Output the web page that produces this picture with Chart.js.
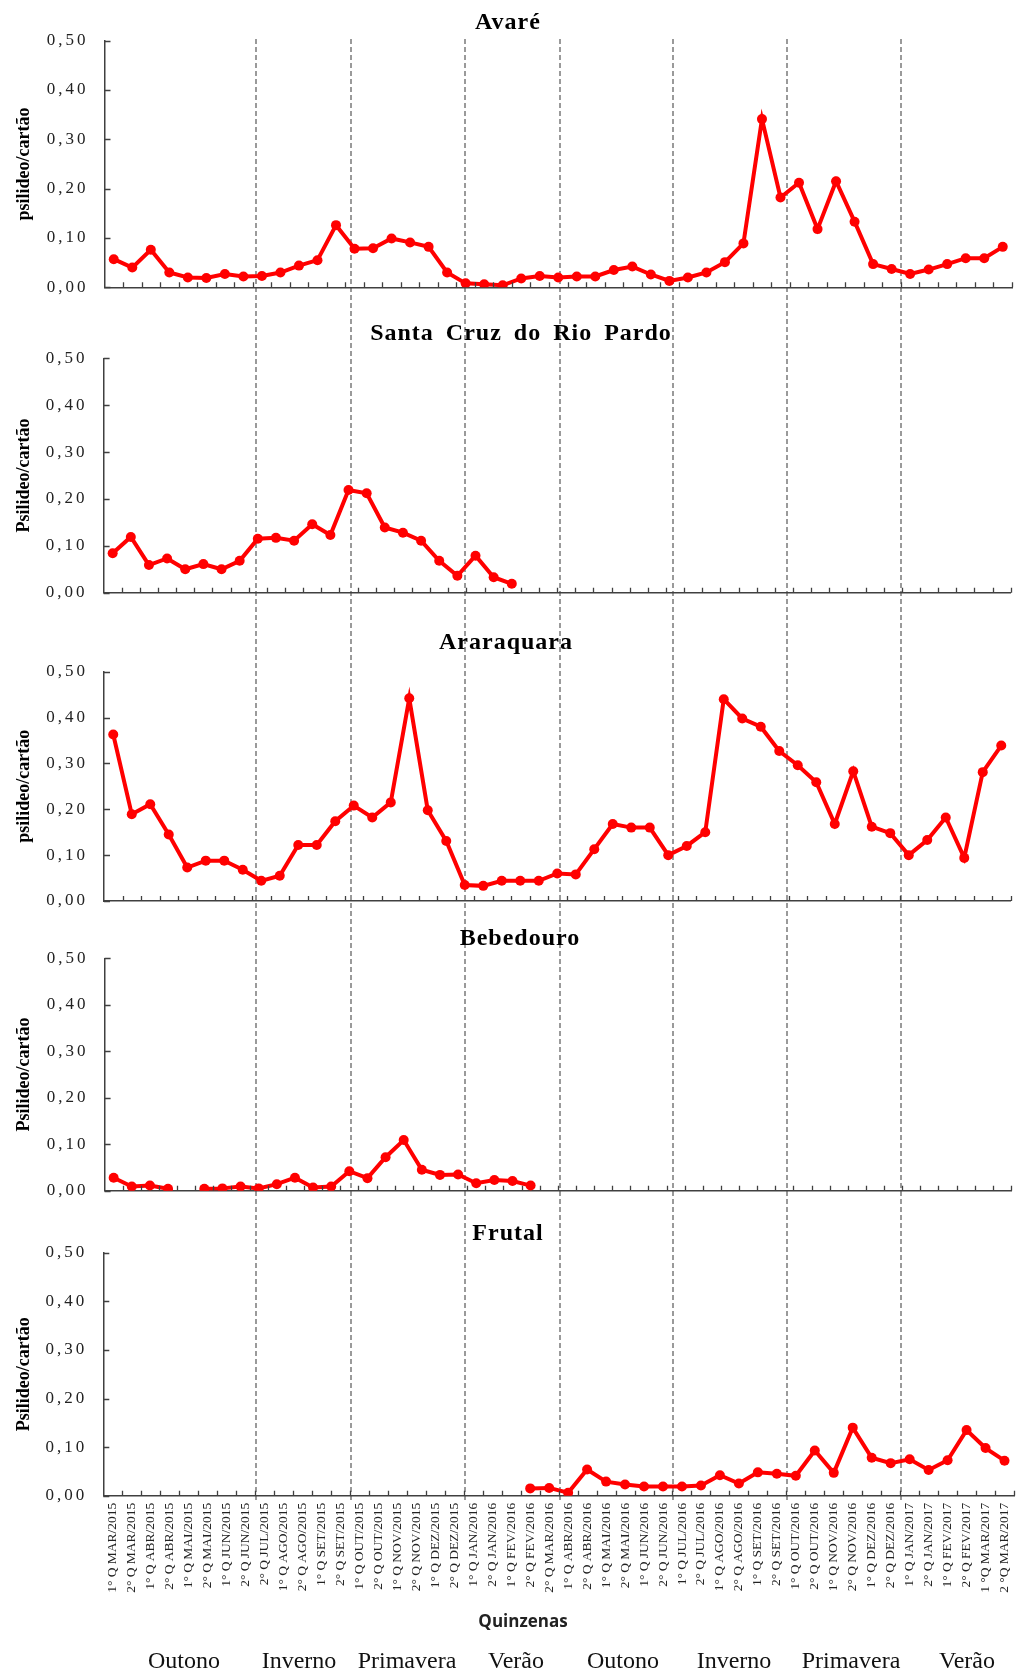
<!DOCTYPE html>
<html lang="pt-BR">
<head>
<meta charset="utf-8">
<title>Psilídeos por cartão - quinzenas</title>
<script src="https://cdn.jsdelivr.net/npm/chart.js@4.4.0/dist/chart.umd.min.js"></script>
<style>
  body { margin: 0; background: #fff; }
  #pagina { position: relative; width: 1019px; height: 1672px; overflow: hidden; }
  #tracos { position: absolute; left: 0; top: 0; }
  .painel { position: absolute; left: 0; }
  .painel canvas { display: block; }
  .titulo {
    position: absolute; transform: translate(-50%, -50%);
    font: bold 24px 'Liberation Serif', serif; letter-spacing: 1px; word-spacing: 5px;
    color: #000; white-space: nowrap;
  }
  .estacao {
    position: absolute; top: 1660px; transform: translate(-50%, -50%);
    font: 24px 'Liberation Serif', serif; color: #111; white-space: nowrap;
  }
  #quinzenas {
    position: absolute; left: 523px; top: 1620px; transform: translate(-50%, -50%);
    font: bold 17px 'Open Sans', sans-serif; color: #222;
  }
</style>
</head>
<body>
<div id="pagina">
  <canvas id="tracos" width="1019" height="1672"></canvas>
</div>
<script>
// Quinzenas mostradas no eixo do gráfico de Frutal
const quinzenas = [
  '1° Q MAR/2015', '2° Q MAR/2015', '1° Q ABR/2015', '2° Q ABR/2015', '1° Q MAI/2015', '2° Q MAI/2015',
  '1° Q JUN/2015', '2° Q JUN/2015', '2° Q JUL/2015', '1° Q AGO/2015', '2° Q AGO/2015', '1° Q SET/2015',
  '2° Q SET/2015', '1° Q OUT/2015', '2° Q OUT/2015', '1° Q NOV/2015', '2° Q NOV/2015', '1° Q DEZ/2015',
  '2° Q DEZ/2015', '1° Q JAN/2016', '2° Q JAN/2016', '1° Q FEV/2016', '2° Q FEV/2016', '2° Q MAR/2016',
  '1° Q ABR/2016', '2° Q ABR/2016', '1° Q MAI/2016', '2° Q MAI/2016', '1° Q JUN/2016', '2° Q JUN/2016',
  '1° Q JUL/2016', '2° Q JUL/2016', '1° Q AGO/2016', '2° Q AGO/2016', '1° Q SET/2016', '2° Q SET/2016',
  '1° Q OUT/2016', '2° Q OUT/2016', '1° Q NOV/2016', '2° Q NOV/2016', '1° Q DEZ/2016', '2° Q DEZ/2016',
  '1° Q JAN/2017', '2° Q JAN/2017', '1° Q FEV/2017', '2° Q FEV/2017', '1 °Q MAR/2017', '2 °Q MAR/2017'
];

// psilídeos por cartão, em ordem de quinzena
const avare = [
  0.057, 0.040, 0.076, 0.030, 0.020, 0.019, 0.027, 0.022, 0.023, 0.030,
  0.044, 0.055, 0.126, 0.078, 0.079, 0.099, 0.091, 0.082, 0.030, 0.008,
  0.006, 0.004, 0.018, 0.023, 0.020, 0.022, 0.022, 0.035, 0.042, 0.026,
  0.013, 0.020, 0.030, 0.051, 0.089, 0.341, 0.182, 0.212, 0.118, 0.215,
  0.133, 0.047, 0.037, 0.027, 0.036, 0.047, 0.059, 0.059, 0.082
];
const santaCruz = [
  0.084, 0.119, 0.059, 0.073, 0.050, 0.061, 0.050, 0.068, 0.115, 0.117,
  0.111, 0.146, 0.123, 0.219, 0.212, 0.139, 0.128, 0.111, 0.068, 0.036,
  0.079, 0.033, 0.019
];
const araraquara = [
  0.363, 0.189, 0.211, 0.145, 0.073, 0.088, 0.088, 0.068, 0.044, 0.055,
  0.122, 0.122, 0.174, 0.208, 0.182, 0.215, 0.442, 0.198, 0.131, 0.035,
  0.033, 0.044, 0.044, 0.044, 0.060, 0.058, 0.113, 0.168, 0.160, 0.160,
  0.100, 0.120, 0.150, 0.440, 0.398, 0.380, 0.327, 0.296, 0.259, 0.168,
  0.283, 0.162, 0.148, 0.100, 0.133, 0.182, 0.094, 0.281, 0.339
];
const bebedouro = [
  0.028, 0.009, 0.011, 0.004, null, 0.004, 0.005, 0.009, 0.005, 0.014,
  0.028, 0.007, 0.009, 0.042, 0.027, 0.072, 0.109, 0.045, 0.034, 0.035,
  0.016, 0.023, 0.021, 0.011
];
// Frutal começa na 2ª quinzena de fevereiro/2016
const inicioFrutal = 22;
const frutal = [
  0.015, 0.016, 0.006, 0.054, 0.029, 0.023, 0.019, 0.019, 0.019, 0.021,
  0.042, 0.025, 0.048, 0.045, 0.041, 0.093, 0.047, 0.140, 0.078, 0.067,
  0.075, 0.053, 0.073, 0.135, 0.098, 0.072
];

const yTicks = [0, 0.1, 0.2, 0.3, 0.4, 0.5];
const estacoes = ['Outono', 'Inverno', 'Primavera', 'Verão', 'Outono', 'Inverno', 'Primavera', 'Verão'];
// índice (em quinzenas) da primeira quinzena de cada nova estação
const trocaEstacao = [8, 13, 19, 24, 30, 36, 42];

const vagas = n => Array.from({ length: n }, (_, i) => quinzenas[i] || '');
const virgula = v => v.toFixed(2).replace('.', ',');

const paineis = [
  { nome: 'Avaré', eixo: 'psilideo/cartão', valores: avare, labels: vagas(49),
    topo: 0, altura: 300, esq: 104.5, dir: 1012, sup: 40.7, inf: 287.3, xAlt: 0, tx: 508, ty: 21 },
  { nome: 'Santa Cruz do Rio Pardo', eixo: 'Psilideo/cartão', valores: santaCruz, labels: vagas(50),
    topo: 300, altura: 310, esq: 103.6, dir: 1010.7, sup: 358.3, inf: 592.7, xAlt: 0, tx: 521, ty: 332 },
  { nome: 'Araraquara', eixo: 'psilideo/cartão', valores: araraquara, labels: vagas(49),
    topo: 610, altura: 300, esq: 104, dir: 1010.5, sup: 671.7, inf: 901, xAlt: 0, tx: 506, ty: 641 },
  { nome: 'Bebedouro', eixo: 'Psilideo/cartão', valores: bebedouro, labels: vagas(50),
    topo: 910, altura: 290, esq: 104.6, dir: 1011, sup: 958.3, inf: 1190.7, xAlt: 0, tx: 520, ty: 937 },
  { nome: 'Frutal', eixo: 'Psilideo/cartão',
    valores: Array(inicioFrutal).fill(null).concat(frutal), labels: quinzenas, rotulos: true,
    topo: 1200, altura: 410, esq: 103.3, dir: 1018, sup: 1252.7, inf: 1495.7, xAlt: 100, tx: 508, ty: 1232 }
];

// marcas internas nos eixos e rótulos do eixo y com vírgula
const marcas = {
  id: 'marcas',
  afterDraw(chart) {
    const { ctx, chartArea: a, scales: { x, y } } = chart;
    const n = x.getLabels().length;
    ctx.save();
    ctx.strokeStyle = '#404040';
    ctx.lineWidth = 1.3;
    ctx.beginPath();
    for (let i = 1; i <= n; i++) {
      const px = Math.round(x.getPixelForValue(i - 0.5)) + 0.5;
      ctx.moveTo(px, a.bottom);
      ctx.lineTo(px, a.bottom - 5);
    }
    y.ticks.forEach(t => {
      const py = Math.round(y.getPixelForValue(t.value)) + 0.5;
      ctx.moveTo(a.left, py);
      ctx.lineTo(a.left + 6, py);
    });
    ctx.stroke();
    ctx.fillStyle = '#222';
    ctx.font = '17px "Liberation Serif", serif';
    ctx.textAlign = 'right';
    ctx.textBaseline = 'middle';
    if ('letterSpacing' in ctx) ctx.letterSpacing = '3px';
    y.ticks.forEach(t => {
      ctx.fillText(virgula(t.value), a.left - 16, y.getPixelForValue(t.value));
    });
    ctx.restore();
  }
};

const pagina = document.getElementById('pagina');
const graficos = [];

paineis.forEach(p => {
  const caixa = document.createElement('div');
  caixa.className = 'painel';
  caixa.style.top = p.topo + 'px';
  const canvas = document.createElement('canvas');
  canvas.width = 1019;
  canvas.height = p.altura;
  caixa.appendChild(canvas);
  pagina.appendChild(caixa);

  const titulo = document.createElement('div');
  titulo.className = 'titulo';
  titulo.textContent = p.nome;
  titulo.style.left = p.tx + 'px';
  titulo.style.top = p.ty + 'px';
  pagina.appendChild(titulo);

  graficos.push(new Chart(canvas, {
    type: 'line',
    data: {
      labels: p.labels,
      datasets: [{
        data: p.valores,
        borderColor: '#ff0000',
        backgroundColor: '#ff0000',
        borderWidth: 4,
        pointRadius: 5,
        pointBorderWidth: 0,
        pointHoverRadius: 5,
        tension: 0
      }]
    },
    options: {
      responsive: false,
      animation: false,
      devicePixelRatio: 1,
      events: [],
      layout: {
        padding: {
          left: 0,
          right: 1019 - p.dir,
          top: p.sup - p.topo,
          bottom: p.topo + p.altura - p.inf - p.xAlt
        }
      },
      plugins: { legend: { display: false }, tooltip: { enabled: false } },
      scales: {
        x: {
          type: 'category',
          offset: true,
          grid: { display: false, drawTicks: false, offset: true },
          border: { color: '#404040', width: 1.5 },
          ticks: {
            display: !!p.rotulos,
            autoSkip: false,
            minRotation: 90,
            maxRotation: 90,
            padding: 7,
            color: '#222',
            font: { family: 'Liberation Serif', size: 13.5 }
          },
          afterFit(s) {
            s.height = p.xAlt;
            s.paddingLeft = 0;
            s.paddingRight = 0;
          }
        },
        y: {
          min: 0,
          max: 0.5,
          afterBuildTicks(s) { s.ticks = yTicks.map(v => ({ value: v })); },
          ticks: { display: false },
          grid: { display: false, drawTicks: false },
          border: { color: '#404040', width: 1.5 },
          title: {
            display: true,
            text: p.eixo,
            color: '#000',
            font: { family: 'Liberation Serif', size: 18, weight: 'bold' },
            padding: { top: 14, bottom: 0 }
          },
          afterFit(s) {
            s.width = p.esq;
            s.paddingTop = 0;
            s.paddingBottom = 0;
          }
        }
      }
    },
    plugins: [marcas]
  }));
});

// linhas tracejadas separando as estações, na escala do gráfico de Frutal
const xFrutal = graficos[graficos.length - 1].scales.x;
const tracos = document.getElementById('tracos').getContext('2d');
tracos.strokeStyle = '#7a7a7a';
tracos.lineWidth = 1.5;
tracos.setLineDash([5, 3]);
trocaEstacao.forEach(k => {
  const px = Math.round(xFrutal.getPixelForValue(k - 0.5)) + 1;
  tracos.beginPath();
  tracos.moveTo(px, 39);
  tracos.lineTo(px, 1502);
  tracos.stroke();
});

// nomes das estações abaixo do eixo
const centrosEstacoes = [184, 299, 407, 516, 623, 734, 851, 967];
estacoes.forEach((nome, i) => {
  const d = document.createElement('div');
  d.className = 'estacao';
  d.textContent = nome;
  d.style.left = centrosEstacoes[i] + 'px';
  pagina.appendChild(d);
});

const q = document.createElement('div');
q.id = 'quinzenas';
q.textContent = 'Quinzenas';
pagina.appendChild(q);
</script>
</body>
</html>
